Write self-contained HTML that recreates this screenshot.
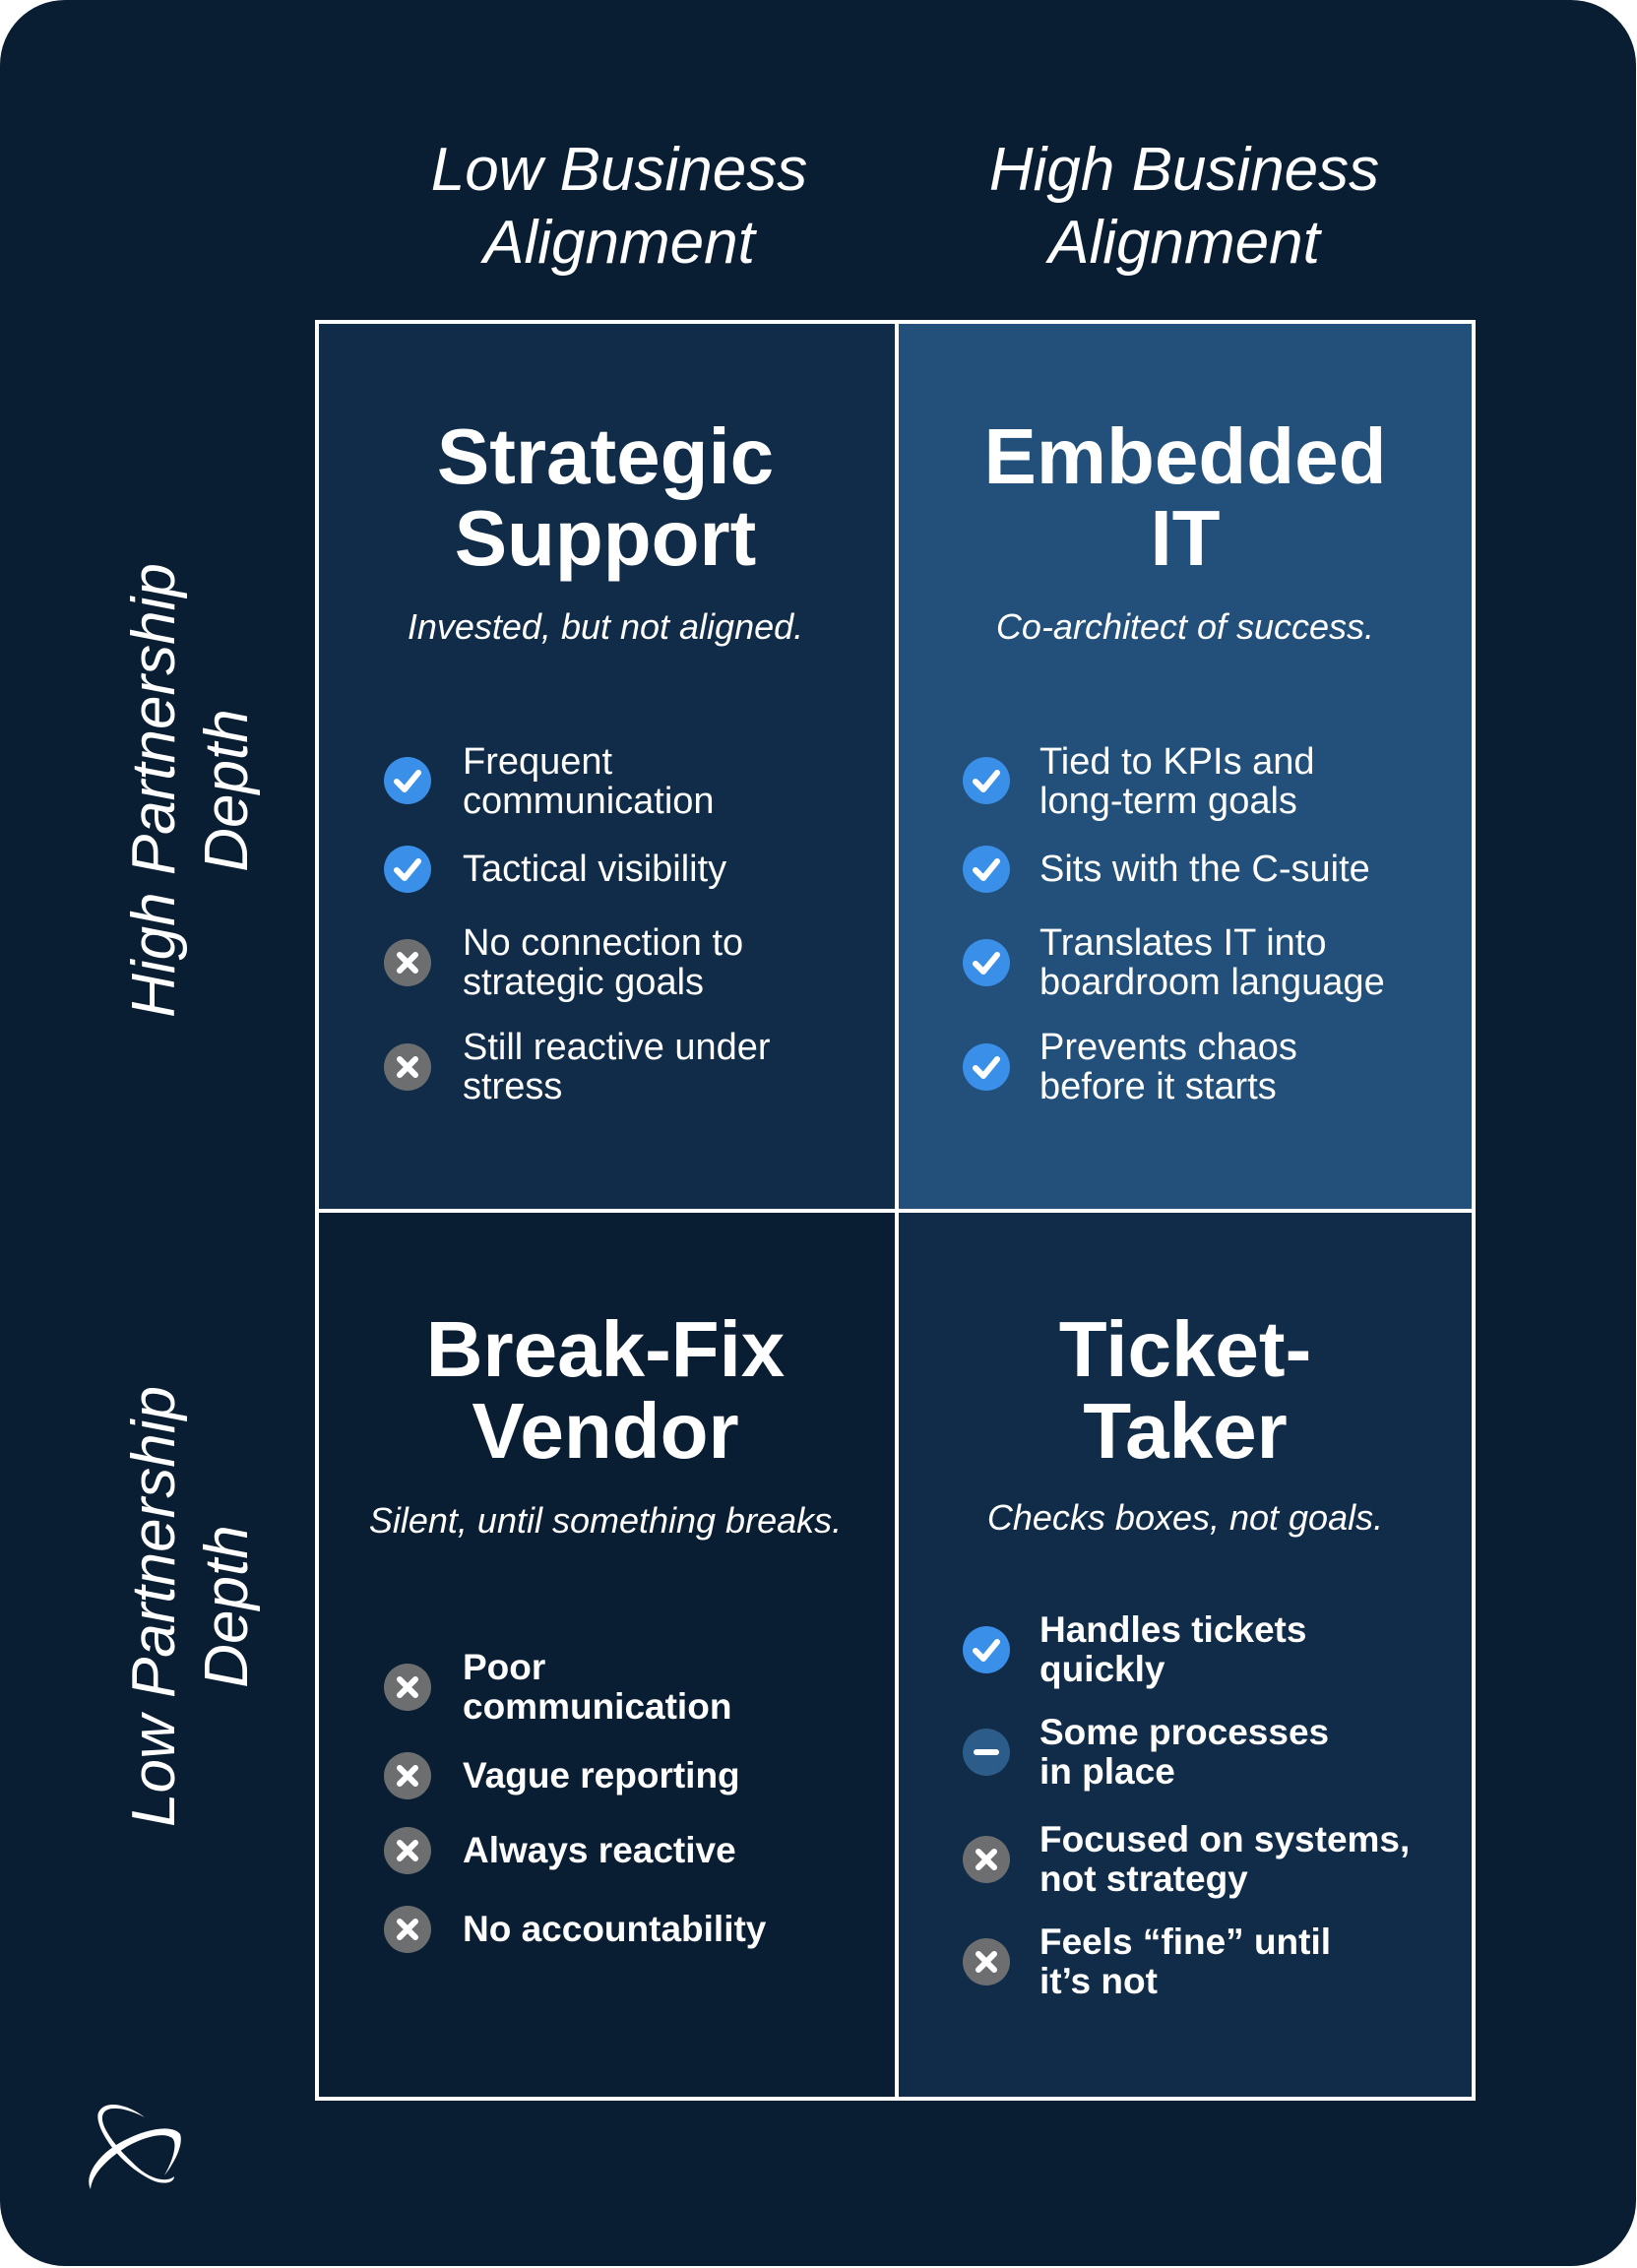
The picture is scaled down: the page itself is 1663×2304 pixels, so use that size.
<!DOCTYPE html>
<html><head><meta charset="utf-8"><style>
*{margin:0;padding:0;box-sizing:border-box}
html,body{width:1663px;height:2304px;background:#fff;overflow:hidden}
#card{position:absolute;left:0;top:0;width:1662px;height:2302px;background:#0a1e33;border-radius:66px;font-family:"Liberation Sans",sans-serif;color:#fff}
.a{position:absolute}
.cell{position:absolute;border:4px solid #fff}
.hdr{position:absolute;font-style:italic;font-size:62px;line-height:74px;text-align:center;width:600px}
.side{position:absolute;font-style:italic;font-size:62px;line-height:74px;text-align:center;width:700px;transform:rotate(-90deg);transform-origin:center}
.t{position:absolute;font-weight:bold;font-size:80px;line-height:83px;text-align:center;width:560px}
.s{position:absolute;font-style:italic;font-size:36px;line-height:40px;text-align:center;width:560px}
.it{position:absolute;font-size:38px;line-height:40px;white-space:nowrap}
.b .it{font-weight:bold;font-size:37px}
svg.ic{position:absolute;width:50px;height:50px}
</style></head><body><div id="card">
<div class="cell" style="left:320px;top:325px;width:593px;height:907px;background:#112c48"></div>
<div class="cell" style="left:909px;top:325px;width:590px;height:907px;background:#22507a"></div>
<div class="cell" style="left:320px;top:1228px;width:593px;height:906px;background:#0a1e33"></div>
<div class="cell" style="left:909px;top:1228px;width:590px;height:906px;background:#112c48"></div>

<div class="hdr" style="left:329px;top:136px">Low Business<br>Alignment</div>
<div class="hdr" style="left:903px;top:136px">High Business<br>Alignment</div>

<div class="side" style="left:-156px;top:729px">High Partnership<br>Depth</div>
<div class="side" style="left:-156px;top:1558px">Low Partnership<br>Depth</div>

<div class="t" style="left:335px;top:422px">Strategic<br>Support</div>
<div class="s" style="left:335px;top:617px">Invested, but not aligned.</div>
<div class="t" style="left:924px;top:422px">Embedded<br>IT</div>
<div class="s" style="left:924px;top:617px">Co-architect of success.</div>
<div class="t" style="left:335px;top:1329px">Break-Fix<br>Vendor</div>
<div class="s" style="left:335px;top:1525px">Silent, until something breaks.</div>
<div class="t" style="left:924px;top:1329px">Ticket-<br>Taker</div>
<div class="s" style="left:924px;top:1522px">Checks boxes, not goals.</div>

<svg width="0" height="0" style="position:absolute"><defs>
<g id="ck"><circle cx="25" cy="25" r="24" fill="#3a8fe8"/><path d="M14 26 L22 34 L36 17" stroke="#fff" stroke-width="6" fill="none" stroke-linecap="round" stroke-linejoin="round"/></g>
<g id="xx"><circle cx="25" cy="25" r="24" fill="#6d6e70"/><path d="M17 17 L33 33 M33 17 L17 33" stroke="#fff" stroke-width="6" stroke-linecap="round"/></g>
<g id="mn"><circle cx="25" cy="25" r="24" fill="#2c5d8a"/><path d="M15 25 L35 25" stroke="#fff" stroke-width="6" stroke-linecap="round"/></g>
</defs></svg>

<svg class="ic" style="left:389px;top:768px"><use href="#ck"/></svg><div class="it" style="left:470px;top:754px">Frequent<br>communication</div>
<svg class="ic" style="left:389px;top:858px"><use href="#ck"/></svg><div class="it" style="left:470px;top:863px">Tactical visibility</div>
<svg class="ic" style="left:389px;top:953px"><use href="#xx"/></svg><div class="it" style="left:470px;top:938px">No connection to<br>strategic goals</div>
<svg class="ic" style="left:389px;top:1059px"><use href="#xx"/></svg><div class="it" style="left:470px;top:1044px">Still reactive under<br>stress</div>

<svg class="ic" style="left:977px;top:768px"><use href="#ck"/></svg><div class="it" style="left:1056px;top:754px">Tied to KPIs and<br>long-term goals</div>
<svg class="ic" style="left:977px;top:858px"><use href="#ck"/></svg><div class="it" style="left:1056px;top:863px">Sits with the C-suite</div>
<svg class="ic" style="left:977px;top:953px"><use href="#ck"/></svg><div class="it" style="left:1056px;top:938px">Translates IT into<br>boardroom language</div>
<svg class="ic" style="left:977px;top:1059px"><use href="#ck"/></svg><div class="it" style="left:1056px;top:1044px">Prevents chaos<br>before it starts</div>

<div class="b">
<svg class="ic" style="left:389px;top:1689px"><use href="#xx"/></svg><div class="it" style="left:470px;top:1674px">Poor<br>communication</div>
<svg class="ic" style="left:389px;top:1779px"><use href="#xx"/></svg><div class="it" style="left:470px;top:1784px">Vague reporting</div>
<svg class="ic" style="left:389px;top:1855px"><use href="#xx"/></svg><div class="it" style="left:470px;top:1860px">Always reactive</div>
<svg class="ic" style="left:389px;top:1935px"><use href="#xx"/></svg><div class="it" style="left:470px;top:1940px">No accountability</div>

<svg class="ic" style="left:977px;top:1651px"><use href="#ck"/></svg><div class="it" style="left:1056px;top:1636px">Handles tickets<br>quickly</div>
<svg class="ic" style="left:977px;top:1755px"><use href="#mn"/></svg><div class="it" style="left:1056px;top:1740px">Some processes<br>in place</div>
<svg class="ic" style="left:977px;top:1864px"><use href="#xx"/></svg><div class="it" style="left:1056px;top:1849px">Focused on systems,<br>not strategy</div>
<svg class="ic" style="left:977px;top:1968px"><use href="#xx"/></svg><div class="it" style="left:1056px;top:1953px">Feels “fine” until<br>it’s not</div>
</div>

<svg class="a" style="left:85px;top:2120px" width="110" height="110" viewBox="0 0 110 110">
<path d="M62 31 C45 18 22 12 15 26 C10 40 35 78 68 94 C80 100 92 98 92 91 C85 97 70 95 55 82 C33 62 14 38 20 27 C25 18 45 22 62 31 Z" fill="#fff"/>
<path d="M7 104 C0 90 15 68 40 55 C65 42 90 38 98 48 C102 60 90 80 82 90 C90 76 96 58 90 52 C80 45 60 52 45 60 C22 74 8 90 7 104 Z" fill="#fff"/>
</svg>
</div></body></html>
